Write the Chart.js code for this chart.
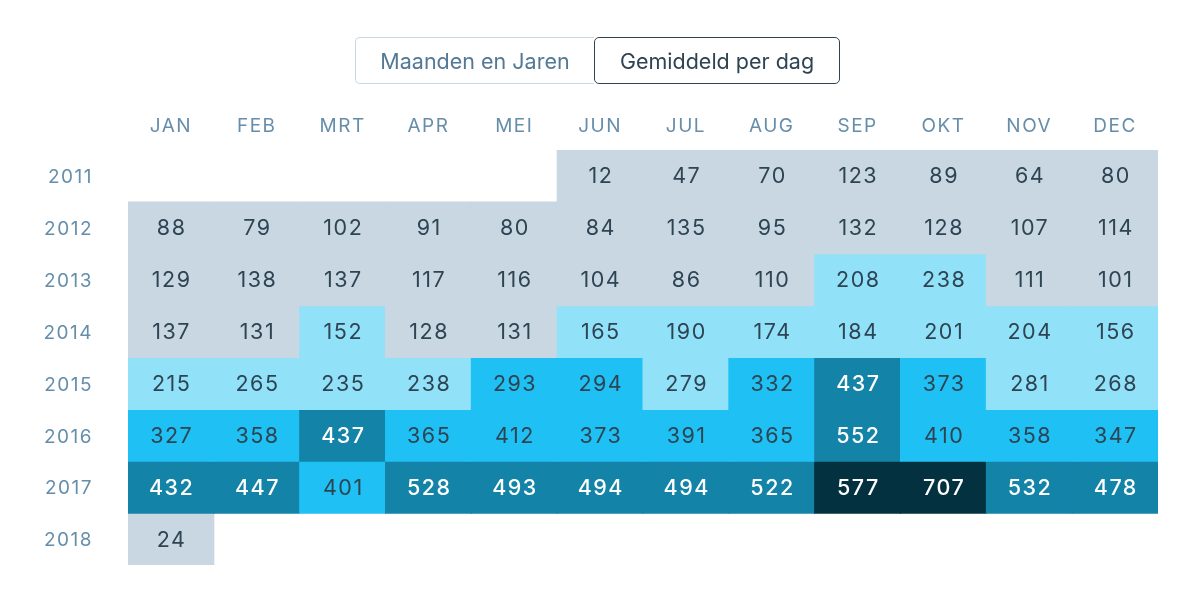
<!DOCTYPE html>
<html>
<head>
<meta charset="utf-8">
<script src="https://cdn.jsdelivr.net/npm/chart.js@4.4.1/dist/chart.umd.min.js"></script>
<style>
  html, body { margin: 0; padding: 0; background: #fff; }
  #wrap { position: relative; width: 1200px; height: 604px; }
  canvas { position: absolute; left: 0; top: 0; }
  .toggle { position: absolute; top: 37px; left: 355px; display: flex; font-family: Inter, "Open Sans", sans-serif; font-size: 21.5px; }
  .toggle div { height: 47px; line-height: 47px; box-sizing: border-box; text-align: center; }
  .b1 { width: 239px; border: 1px solid #c8d7e1; border-right: none; border-radius: 5px 0 0 5px; color: #537994; }
  .b2 { width: 246px; border: 1.5px solid #2e4453; border-radius: 5px; color: #2e4453; }
</style>
</head>
<body>
<div id="wrap">
  <canvas id="c" width="1200" height="604"></canvas>
  <div class="toggle"><div class="b1">Maanden en Jaren</div><div class="b2">Gemiddeld per dag</div></div>
</div>
<script>
const months = ['JAN','FEB','MRT','APR','MEI','JUN','JUL','AUG','SEP','OKT','NOV','DEC'];
const years = ['2011','2012','2013','2014','2015','2016','2017','2018'];
const v2011 = [null,null,null,null,null,12,47,70,123,89,64,80];
const v2012 = [88,79,102,91,80,84,135,95,132,128,107,114];
const v2013 = [129,138,137,117,116,104,86,110,208,238,111,101];
const v2014 = [137,131,152,128,131,165,190,174,184,201,204,156];
const v2015 = [215,265,235,238,293,294,279,332,437,373,281,268];
const v2016 = [327,358,437,365,412,373,391,365,552,410,358,347];
const v2017 = [432,447,401,528,493,494,494,522,577,707,532,478];
const v2018 = [24,null,null,null,null,null,null,null,null,null,null,null];
const rows = [v2011,v2012,v2013,v2014,v2015,v2016,v2017,v2018];

const thresholds = [150, 290, 430, 570];
const fills = ['#c8d7e1', '#91e1f9', '#1fc0f4', '#1483a8', '#03313f'];
const textCols = ['#2e4453', '#2e4453', '#2e4453', '#ffffff', '#ffffff'];
function level(v) { let i = 0; while (i < thresholds.length && v >= thresholds[i]) i++; return i; }

const datasets = rows.map((vals, r) => ({
  label: years[r],
  data: vals.map(v => v == null ? null : [r, r + 1]),
  values: vals,
  backgroundColor: vals.map(v => v == null ? 'rgba(0,0,0,0)' : fills[level(v)]),
  borderWidth: 0,
  borderSkipped: false,
  barPercentage: 1,
  categoryPercentage: 1,
  grouped: false,
  inflateAmount: 0.5
}));

const FONT = 'Inter, "Open Sans", sans-serif';

const cellLabels = {
  id: 'cellLabels',
  afterDatasetsDraw(chart) {
    const ctx = chart.ctx;
    ctx.save();
    ctx.letterSpacing = '1.5px';
    ctx.textAlign = 'center';
    ctx.textBaseline = 'middle';
    chart.data.datasets.forEach((ds, di) => {
      const meta = chart.getDatasetMeta(di);
      meta.data.forEach((el, i) => {
        const v = ds.values[i];
        if (v == null) return;
        const lv = level(v);
        const p = el.getCenterPoint();
        ctx.font = (lv >= 3 ? '500 ' : '400 ') + '21.5px ' + FONT;
        ctx.fillStyle = textCols[lv];
        ctx.fillText(String(v), p.x + 0.75, p.y + 1);
      });
    });
    ctx.restore();
  }
};
const spacing = {
  id: 'spacing',
  beforeLayout(chart) { chart.ctx.letterSpacing = '1.5px'; },
  beforeDraw(chart) { chart.ctx.letterSpacing = '1.5px'; },
  afterDraw(chart) { chart.ctx.letterSpacing = '0px'; }
};

new Chart(document.getElementById('c'), {
  type: 'bar',
  data: { labels: months, datasets },
  options: {
    responsive: false,
    animation: false,
    events: [],
    layout: { padding: { top: 100, right: 42, bottom: 39, left: 0 } },
    plugins: { legend: { display: false }, tooltip: { enabled: false } },
    scales: {
      x: {
        type: 'category',
        position: 'top',
        offset: true,
        grid: { display: false, drawTicks: false },
        border: { display: false },
        ticks: { color: '#668eaa', font: { family: FONT, size: 19 }, padding: 12, maxRotation: 0, autoSkip: false },
        afterFit(s) { s.height = 50; s.paddingLeft = 0; s.paddingRight = 0; }
      },
      y: {
        type: 'linear',
        min: 0,
        max: years.length,
        reverse: true,
        grid: { display: false, drawTicks: false },
        border: { display: false },
        afterBuildTicks(s) { s.ticks = years.map((y, i) => ({ value: i + 0.5 })); },
        ticks: {
          color: '#668eaa', font: { family: FONT, size: 19 }, padding: 35, autoSkip: false, labelOffset: 1.5,
          callback(val, idx) { return years[idx]; }
        },
        afterFit(s) { s.width = 128; s.paddingTop = 0; s.paddingBottom = 0; }
      }
    }
  },
  plugins: [spacing, cellLabels]
});
</script>
</body>
</html>
